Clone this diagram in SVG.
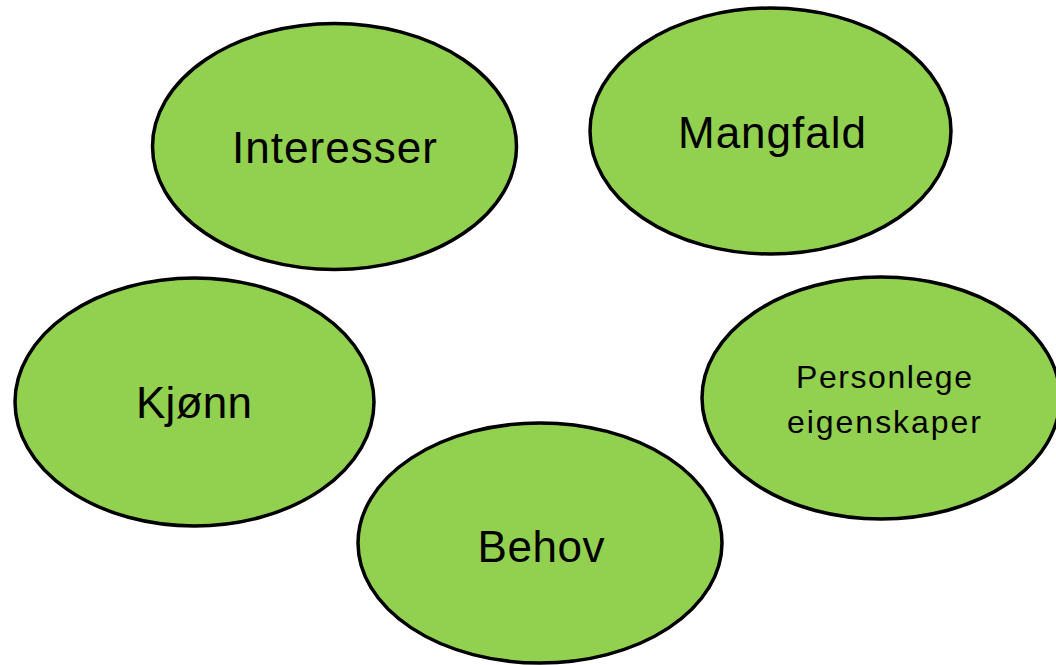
<svg xmlns="http://www.w3.org/2000/svg" width="1056" height="665" viewBox="0 0 1056 665">
<style>
.n{fill:#92D050;stroke:#000;stroke-width:3.5}
.t{font-family:"Liberation Sans",Arial,sans-serif;fill:#000;text-anchor:middle}
.big{font-size:44px}
.small{font-size:32px}
</style>
<rect width="1056" height="665" fill="#fff"/>
<g id="connectors"></g>
<g id="interesser">
<ellipse class="n" cx="334.5" cy="146.5" rx="182" ry="123"/>
<text class="t big" x="334.5" y="163" textLength="205" lengthAdjust="spacing">Interesser</text>
</g>
<g id="mangfald">
<ellipse class="n" cx="770.5" cy="131" rx="180.5" ry="123"/>
<text class="t big" x="772" y="148" textLength="188" lengthAdjust="spacing">Mangfald</text>
</g>
<g id="kjonn">
<ellipse class="n" cx="194.5" cy="402" rx="179.5" ry="124"/>
<text class="t big" x="194" y="418" textLength="116" lengthAdjust="spacing">Kjønn</text>
</g>
<g id="personlege">
<ellipse class="n" cx="881" cy="398" rx="179" ry="121"/>
<text class="t small" x="884" y="388" textLength="176" lengthAdjust="spacing">Personlege</text>
<text class="t small" x="884" y="433" textLength="194" lengthAdjust="spacing">eigenskaper</text>
</g>
<g id="behov">
<ellipse class="n" cx="540" cy="543" rx="182" ry="120"/>
<text class="t big" x="541" y="562" textLength="127" lengthAdjust="spacing">Behov</text>
</g>
</svg>
